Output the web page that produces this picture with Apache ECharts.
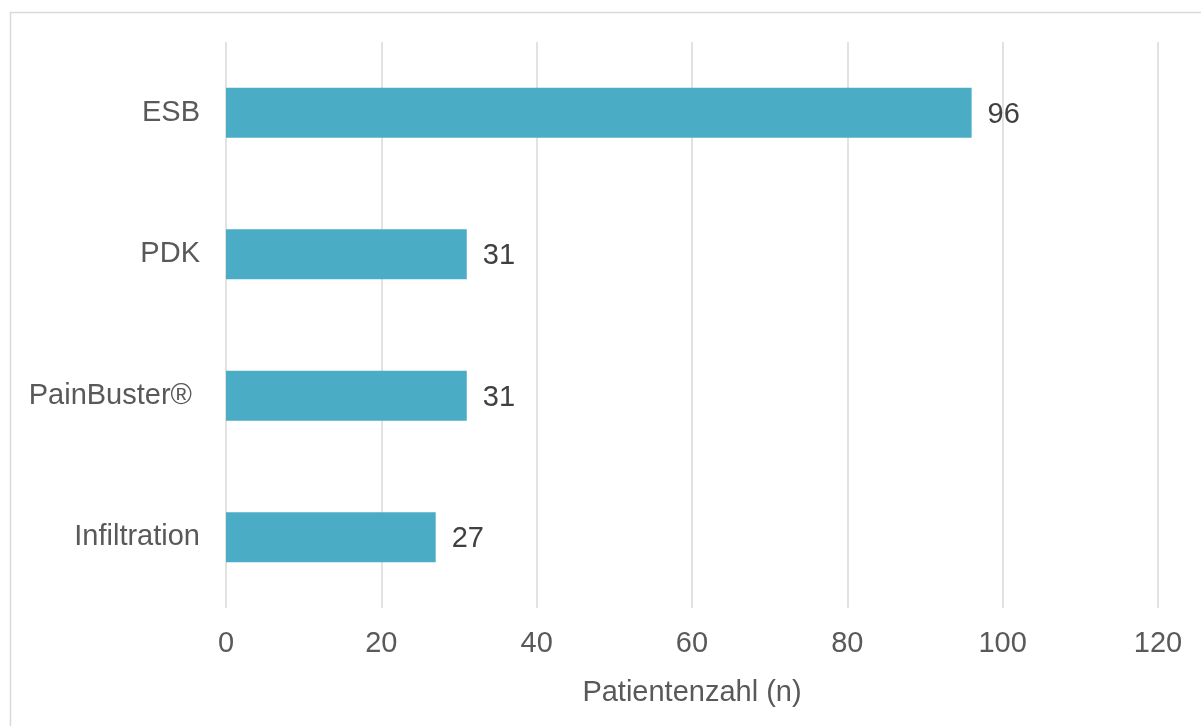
<!DOCTYPE html>
<html>
<head>
<meta charset="utf-8">
<script src="https://cdn.jsdelivr.net/npm/echarts@6/dist/echarts.min.js"></script>
<style>
  html, body { margin: 0; padding: 0; background: #fff; overflow: hidden; }
  #chart { width: 1201px; height: 726px; }
</style>
</head>
<body>
<div id="chart"></div>
<script>
// Patient counts per analgesia method
const categories = ['ESB', 'PDK', 'PainBuster® ', 'Infiltration'];
const patientCounts = [96, 31, 31, 27];
const axisTitle = 'Patientenzahl (n)';

const chart = echarts.init(document.getElementById('chart'), null, { renderer: 'canvas' });

chart.setOption({
  animation: false,
  backgroundColor: '#ffffff',
  textStyle: { fontFamily: 'Liberation Sans, Arial, sans-serif' },
  graphic: [{
    type: 'rect',
    silent: true,
    shape: { x: 10.5, y: 12.5, width: 1400, height: 900 },
    style: { fill: 'none', stroke: '#d9d9d9', lineWidth: 1.5 }
  }],
  grid: { left: 226, right: 43, top: 42, bottom: 118, containLabel: false },
  xAxis: {
    type: 'value',
    min: 0,
    max: 120,
    interval: 20,
    name: axisTitle,
    nameLocation: 'middle',
    nameGap: 70,
    nameTextStyle: { color: '#595959', fontSize: 29 },
    axisLine: { show: false },
    axisTick: { show: false },
    axisLabel: { color: '#595959', fontSize: 29, margin: 21 },
    splitLine: { show: true, lineStyle: { color: '#d9d9d9', width: 1.5 } }
  },
  yAxis: {
    type: 'category',
    data: categories,
    inverse: true,
    axisLine: { show: false },
    axisTick: { show: false },
    axisLabel: { color: '#595959', fontSize: 29, margin: 26, padding: [8, 0, 0, 0] },
    splitLine: { show: false }
  },
  series: [{
    type: 'bar',
    data: patientCounts,
    barWidth: 50,
    itemStyle: { color: '#4bacc6' },
    label: {
      show: true,
      position: 'right',
      distance: 16,
      offset: [0, 2],
      color: '#404040',
      fontSize: 29
    }
  }]
});
</script>
</body>
</html>
